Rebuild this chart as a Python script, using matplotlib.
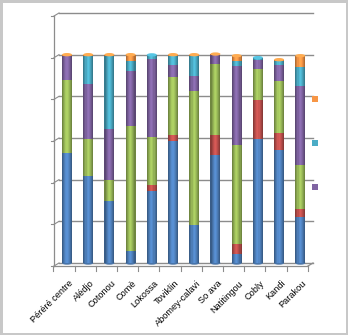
import matplotlib
matplotlib.use("Agg")
import matplotlib.pyplot as plt
import matplotlib.colors as mcolors
from matplotlib.patches import Ellipse, Rectangle
import numpy as np

categories = ["Péréré centre", "Alédjo", "Cotonou", "Comè", "Lokossa", "Toviklin",
              "Abomey-calavi", "So ava", "Natitingou", "Cobly", "Kandi", "Parakou"]
blue   = [53.0, 41.6, 29.8, 5.6, 34.4, 58.4, 18.4, 51.7, 4.5, 59.5, 54.4, 22.1]
red    = [0.0, 0.0, 0.0, 0.0, 2.9, 3.2, 0.0, 9.9, 4.8, 18.9, 8.0, 3.8]
green  = [34.7, 17.9, 9.9, 60.3, 23.0, 27.7, 64.0, 33.9, 47.3, 14.9, 25.1, 21.0]
purple = [11.8, 26.4, 24.8, 26.1, 37.6, 5.9, 7.5, 4.5, 37.8, 4.0, 7.7, 37.9]
teal   = [0.0, 13.6, 34.7, 4.8, 2.0, 4.3, 9.6, 0.0, 2.4, 1.3, 1.8, 9.1]
orange = [0.5, 0.5, 0.8, 3.2, 0.0, 0.5, 0.5, 0.3, 2.7, 0.0, 0.6, 5.6]

series = [blue, red, green, purple, teal, orange]
colors = ["#4F81BD", "#C0504D", "#9BBB59", "#8064A2", "#4BACC6", "#F79646"]
legend_colors = ["#F79646", "#4BACC6", "#8064A2"]

W, H = 348, 335
fig = plt.figure(figsize=(W / 100, H / 100), dpi=100)
fig.patch.set_facecolor("white")
fig.patch.set_edgecolor("#C8C8C8")
fig.patch.set_linewidth(2.5)

left_px, right_px, bot_px, top_px = 55, 313, 263, 13
ax = fig.add_axes([left_px / W, (H - bot_px) / H, (right_px - left_px) / W, (bot_px - top_px) / H])
ax.set_facecolor("none")
for s in ax.spines.values():
    s.set_visible(False)
ax.set_xticks([])
ax.set_yticks([])

n = len(categories)
x = np.arange(n)
ax.set_xlim(-0.566, n - 1 + 0.6)
ax.set_ylim(0, 120)

ppu_x = (right_px - left_px) / (n - 1 + 0.6 + 0.566)
ppu_y = (bot_px - top_px) / 120.0
dx = 5 / ppu_x  # depth offset in x units
dy = 3 / ppu_y  # depth offset in y units

grid_c = "#8C8C8C"
xl0 = -0.566 + 4 / ppu_x
xr = n - 1 + 0.6
# back-wall gridlines and left wall stubs
for v in range(0, 121, 20):
    ax.plot([xl0, xr], [v, v], color=grid_c, lw=1.0, clip_on=False, zorder=1)
    ax.plot([xl0 - dx, xl0], [v - dy, v], color=grid_c, lw=0.8, clip_on=False, zorder=1)
    ax.plot([xl0 - dx - 3 / ppu_x, xl0 - dx], [v - dy, v - dy], color=grid_c, lw=0.8, clip_on=False, zorder=1)
# front vertical axis
ax.plot([xl0 - dx, xl0 - dx], [-dy, 120 - dy], color=grid_c, lw=0.9, clip_on=False, zorder=1)
# floor front edge and right slant
ax.plot([xl0 - dx, xr - dx], [-dy, -dy], color=grid_c, lw=0.9, clip_on=False, zorder=1)
ax.plot([xr - dx, xr], [-dy, 0], color=grid_c, lw=0.9, clip_on=False, zorder=1)
# category boundary ticks
for b in np.arange(-0.5, n, 1.0):
    ax.plot([b - dx * 0.6, b - dx * 0.6], [-dy, -dy - 2.6], color=grid_c, lw=0.8, clip_on=False, zorder=1)

# cylinders with shaded strips
bw = 0.47
nstrip = 9
shade = [0.72, 0.85, 0.97, 1.08, 1.12, 1.05, 0.95, 0.84, 0.72]
bottom = np.zeros(n)
for vals, c in zip(series, colors):
    vals = np.array(vals)
    rgb = np.array(mcolors.to_rgb(c))
    for k in range(nstrip):
        off = -bw / 2 + (k + 0.5) * bw / nstrip
        col = np.clip(rgb * shade[k], 0, 1)
        ax.bar(x + off, vals, width=bw / nstrip * 1.02, bottom=bottom, color=col,
               edgecolor="none", zorder=3)
    bottom = bottom + vals

# top ellipses
totals = bottom
for i in range(n):
    top_c = None
    for vals, c in zip(series[::-1], colors[::-1]):
        if vals[i] > 0.25:
            top_c = c
            break
    rgb = np.array(mcolors.to_rgb(top_c))
    ax.add_patch(Ellipse((x[i], totals[i]), bw, 1.6, facecolor=np.clip(rgb * 1.15, 0, 1),
                         edgecolor="none", zorder=4, clip_on=False))
    rgbb = np.array(mcolors.to_rgb(colors[0]))
    ax.add_patch(Ellipse((x[i], 0), bw, 1.6, facecolor=rgbb * 0.9, edgecolor="none", zorder=2, clip_on=False))

# category labels
for i, lab in enumerate(categories):
    ax.text(x[i] + 0.08, -7.6, lab, rotation=45, ha="right", va="top",
            rotation_mode="anchor", fontsize=6.6, family="Liberation Sans", color="#000000")

# legend markers (text clipped in the original)
for j, c in enumerate(legend_colors):
    cy = 99 + j * 44
    fig.add_artist(Rectangle(((312) / W, (H - cy - 3) / H), 6 / W, 6 / H,
                             transform=fig.transFigure, facecolor=c, edgecolor="none"))

fig.savefig("out.png", dpi=100, facecolor=fig.get_facecolor(), edgecolor=fig.get_edgecolor())
